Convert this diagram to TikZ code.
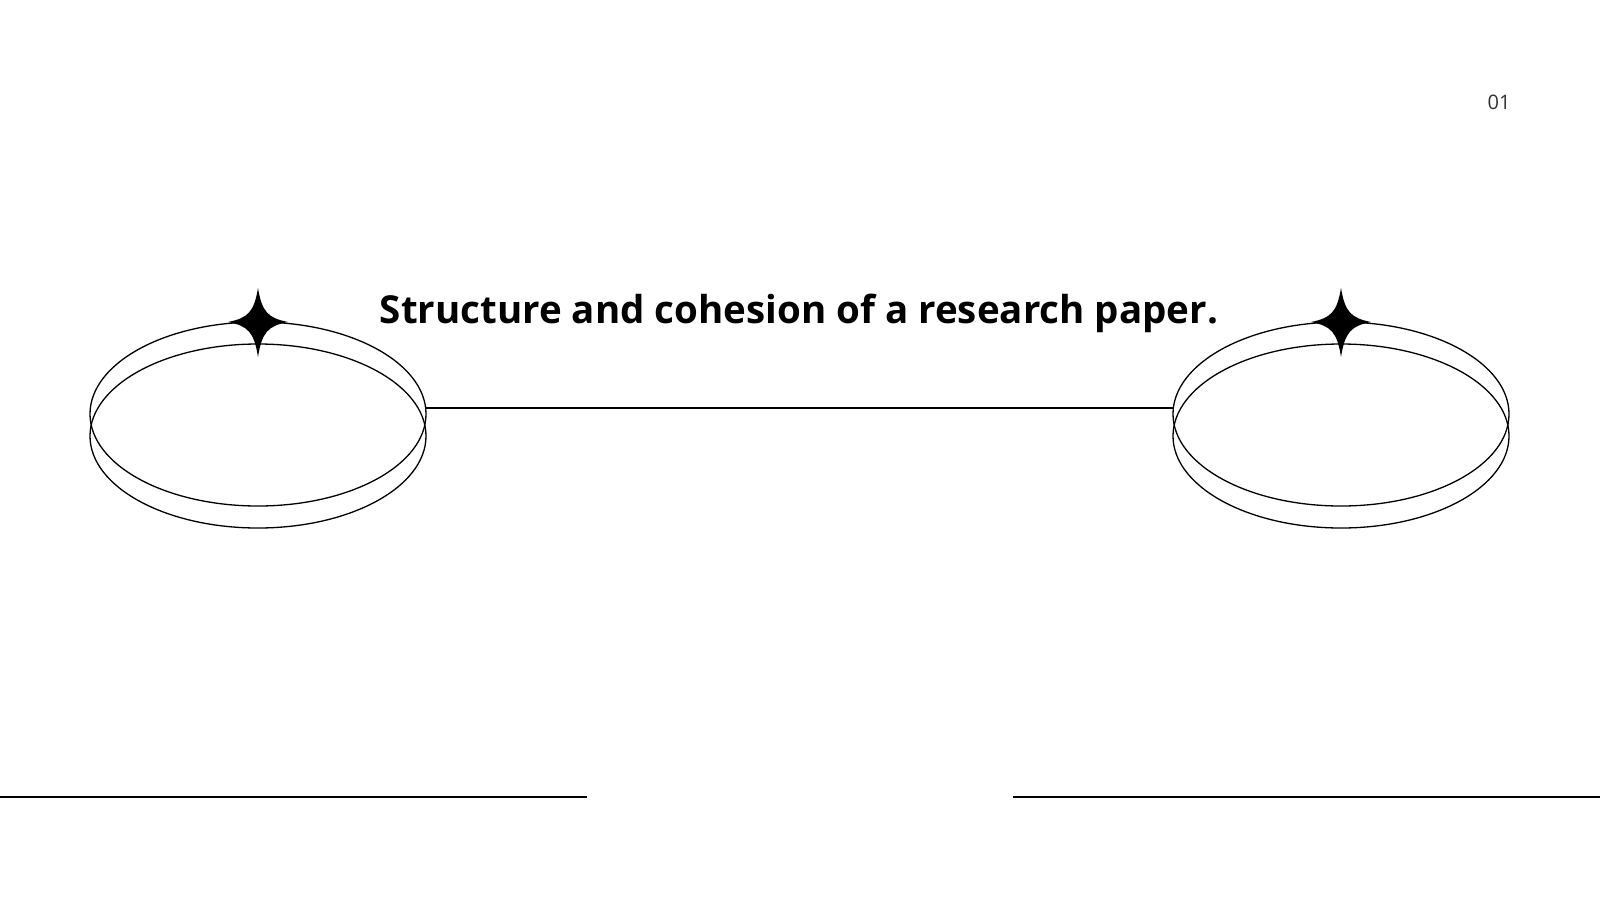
\documentclass[tikz,border=0pt]{standalone}
\usepackage{fontspec}
\setmainfont{Open Sans}
\begin{document}
\begin{tikzpicture}[x=1pt,y=-1pt,
  ring/.style={line width=1.3pt,black},
  rule/.style={line width=1.3pt,black}]
\useasboundingbox (0,0) rectangle (1600,900);
\newcommand{\mystar}[2]{%
  \fill[black] (#1,#2-34) .. controls (#1+4,#2-10) and (#1+10,#2-4) .. (#1+30,#2)
    .. controls (#1+10,#2+4) and (#1+4,#2+10) .. (#1,#2+35)
    .. controls (#1-4,#2+10) and (#1-10,#2+4) .. (#1-30,#2)
    .. controls (#1-10,#2-4) and (#1-4,#2-10) .. cycle;}
\foreach \cx/\n in {258/L,1341/R}{
  \draw[ring] (\cx,414) ellipse [x radius=168, y radius=92];
  \draw[ring] (\cx,436) ellipse [x radius=168, y radius=92];
  \mystar{\cx}{322}
}
\coordinate (l1) at (426,408);
\coordinate (r1) at (1173,408);
\draw[rule] (l1) -- (r1);
\coordinate (b1) at (0,797); \coordinate (b2) at (587,797);
\coordinate (b3) at (1013,797); \coordinate (b4) at (1600,797);
\draw[rule] (b1) -- (b2);
\draw[rule] (b3) -- (b4);
\node[font=\fontsize{38.5}{44}\selectfont\bfseries] (title) at (799,313) {Structure and cohesion of a research paper.};
\node[font=\fontsize{20}{24}\selectfont,text=black!80] (num) at (1499,102) {01};
\end{tikzpicture}
\end{document}
